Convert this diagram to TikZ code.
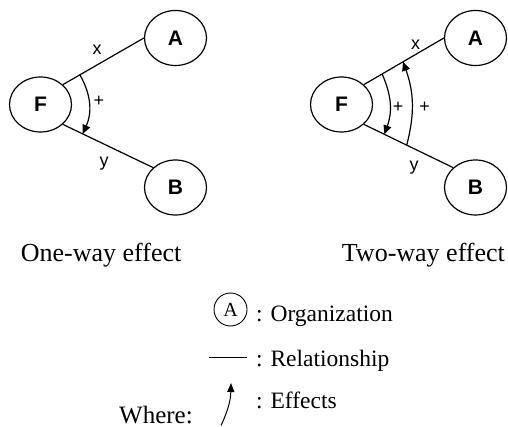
\documentclass[tikz,border=0pt]{standalone}
\usepackage{fontspec}
\setmainfont{Liberation Serif}
\setsansfont{Liberation Sans}
\usetikzlibrary{shapes.geometric,arrows.meta,calc}

\tikzset{
  org/.style={draw, ellipse, line width=1.2pt, minimum width=62pt, minimum height=55pt,
    inner sep=0pt, font=\sffamily\bfseries\fontsize{21}{21}\selectfont},
  rel/.style={line width=1.2pt},
  effect/.style={line width=1.2pt, -{Triangle[length=9pt,width=8pt]}},
  lbl/.style={font=\sffamily\fontsize{18}{18}\selectfont, inner sep=0pt},
  sign/.style={font=\sffamily\fontsize{18}{18}\selectfont, inner sep=0pt},
  caption/.style={font=\fontsize{26}{30}\selectfont, inner sep=0pt, anchor=base west},
  legend/.style={font=\fontsize{23.5}{28}\selectfont, inner sep=0pt, anchor=base west},
  legendline/.style={line width=1pt},
}

\begin{document}
\begin{tikzpicture}[x=1pt,y=-1pt]
\useasboundingbox (0,0) rectangle (508,427);

% ---- one-way effect ----
\node[org] (F1) at (40.5,104.5) {F};
\node[org] (A1) at (175.5,38) {A};
\node[org] (B1) at (175.5,187.5) {B};
\draw[rel] (F1.north east) -- (A1.west);
\draw[rel] (F1.south east) -- (B1.north west);
\node[lbl] (x1) at (97,50) {x};
\node[lbl] (y1) at (104,164) {y};
\coordinate (s1) at ($(F1.north east)!0.21!(A1.west)$);
\coordinate (e1) at ($(F1.south east)!0.22!(B1.north west)$);
\draw[effect] (s1) to[bend left=27] (e1);
\node[sign] (p1) at (99,101.5) {+};

% ---- two-way effect ----
\node[org] (F2) at (341.5,104.5) {F};
\node[org] (A2) at (475.5,38) {A};
\node[org] (B2) at (475.5,187.5) {B};
\draw[rel] (F2.north east) -- (A2.west);
\draw[rel] (F2.south east) -- (B2.north west);
\node[lbl] (x2) at (415.7,45) {x};
\node[lbl] (y2) at (414,167.5) {y};
\coordinate (s2) at ($(F2.north east)!0.228!(A2.west)$);
\coordinate (e2) at ($(F2.south east)!0.23!(B2.north west)$);
\draw[effect] (s2) to[bend left=22] (e2);
\coordinate (s3) at ($(F2.south east)!0.48!(B2.north west)$);
\coordinate (e3) at ($(F2.north east)!0.49!(A2.west)$);
\draw[effect] (s3) to[bend right=17] (e3);
\node[sign] (p2) at (398,107) {+};
\node[sign] (p3) at (424.5,107) {+};

% ---- captions ----
\node[caption] (cap1) at (20.7,261.7) {One-way effect};
\node[caption] (cap2) at (341.7,262) {Two-way effect};

% ---- legend ----
\node[draw, circle, minimum size=33pt, inner sep=0pt, line width=0.9pt,
      font=\fontsize{20}{20}\selectfont] (legA) at (230.5,309.5) {A};
\node[legend] (legOrg) at (256,321) {: Organization};
\coordinate (l1) at (209,357.5);
\coordinate (l2) at (247,357.5);
\draw[legendline] (l1) -- (l2);
\node[legend] (legRel) at (256,366.5) {: Relationship};
\coordinate (a1) at (221,425.5);
\coordinate (a2) at (231,383);
\draw[legendline, -{Triangle[length=9pt,width=7pt]}] (a1) to[bend right=12] (a2);
\node[legend] (legEff) at (256,408.5) {: Effects};
\node[font=\fontsize{25}{30}\selectfont, inner sep=0pt, anchor=base west] (where) at (119,423) {Where:};
\end{tikzpicture}
\end{document}
